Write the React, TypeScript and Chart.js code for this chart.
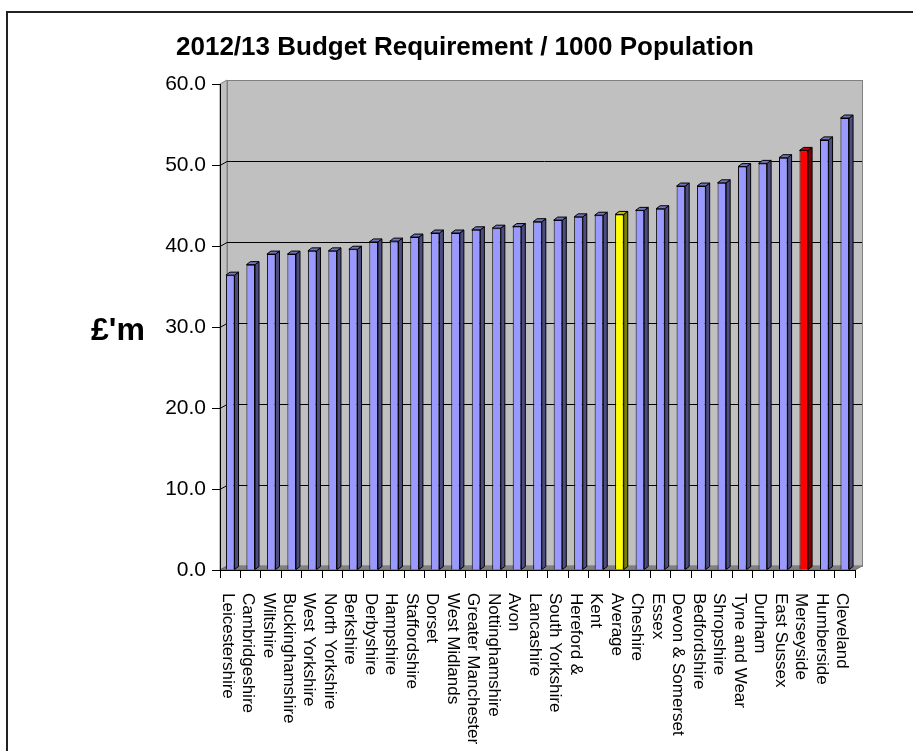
import React, { useEffect, useRef } from "react";
import { Chart, registerables } from "chart.js";

Chart.register(...registerables);

const chartTitle = "2012/13 Budget Requirement / 1000 Population";
const yAxisTitle = "£'m";

const categories = [
  "Leicestershire",
  "Cambridgeshire",
  "Wiltshire",
  "Buckinghamshire",
  "West Yorkshire",
  "North Yorkshire",
  "Berkshire",
  "Derbyshire",
  "Hampshire",
  "Staffordshire",
  "Dorset",
  "West Midlands",
  "Greater Manchester",
  "Nottinghamshire",
  "Avon",
  "Lancashire",
  "South Yorkshire",
  "Hereford &",
  "Kent",
  "Average",
  "Cheshire",
  "Essex",
  "Devon & Somerset",
  "Bedfordshire",
  "Shropshire",
  "Tyne and Wear",
  "Durham",
  "East Sussex",
  "Merseyside",
  "Humberside",
  "Cleveland",
];

const values = [
  36.4, 37.7, 39.0, 39.0, 39.4, 39.4, 39.6, 40.5, 40.6, 41.1, 41.6, 41.6, 42.0,
  42.2, 42.4, 43.0, 43.2, 43.6, 43.8, 43.9, 44.4, 44.6, 47.4, 47.4, 47.8, 49.8,
  50.2, 50.9, 51.8, 53.1, 55.8,
];

const yMin = 0;
const yMax = 60;
const yStep = 10;

const highlightYellow = ["Average"];
const highlightRed = ["Merseyside"];

// styles
const FONT = '"Liberation Sans", Arial, sans-serif';
const DX = 7; // wall depth offset
const DY = -4;
const BDX = 4; // bar depth offset
const BDY = -3;

const faceColor = (c: string) =>
  highlightYellow.includes(c) ? "#FFFF00" : highlightRed.includes(c) ? "#FF0000" : "#9999FF";
const sideColor = (c: string) =>
  highlightYellow.includes(c) ? "#808000" : highlightRed.includes(c) ? "#800000" : "#4C4C80";
const topColor = (c: string) =>
  highlightYellow.includes(c) ? "#BFBF00" : highlightRed.includes(c) ? "#BF0000" : "#7373BF";

const decorPlugin = {
  id: "decor3d",
  beforeDraw(chart: any) {
    const { ctx, chartArea } = chart;
    const ys = chart.scales.y;
    const L = chartArea.left,
      R = chartArea.right,
      T = chartArea.top,
      B = chartArea.bottom;
    ctx.save();
    // outer frame
    ctx.strokeStyle = "#222";
    ctx.lineWidth = 2;
    ctx.strokeRect(7, 12, 940, 800);

    // back wall
    ctx.fillStyle = "#C0C0C0";
    ctx.fillRect(L + DX, T + DY, R - L, B - T);
    // left wall
    ctx.beginPath();
    ctx.moveTo(L, T);
    ctx.lineTo(L + DX, T + DY);
    ctx.lineTo(L + DX, B + DY);
    ctx.lineTo(L, B);
    ctx.closePath();
    ctx.fill();
    ctx.strokeStyle = "#808080";
    ctx.lineWidth = 1;
    ctx.stroke();
    // floor
    ctx.beginPath();
    ctx.moveTo(L, B);
    ctx.lineTo(L + DX, B + DY);
    ctx.lineTo(R + DX, B + DY);
    ctx.lineTo(R, B);
    ctx.closePath();
    ctx.fillStyle = "#808080";
    ctx.fill();
    ctx.strokeStyle = "#666";
    ctx.stroke();
    // back wall border
    ctx.strokeStyle = "#808080";
    ctx.strokeRect(L + DX + 0.5, T + DY + 0.5, R - L, B - T);

    // gridlines on back wall
    ctx.strokeStyle = "#000";
    ctx.lineWidth = 1;
    for (let v = yMin + yStep; v < yMax; v += yStep) {
      const py = Math.round(ys.getPixelForValue(v)) + 0.5;
      ctx.beginPath();
      ctx.moveTo(L, py);
      ctx.lineTo(L + DX, py + DY);
      ctx.lineTo(R + DX, py + DY);
      ctx.stroke();
    }
    ctx.restore();
  },
  afterDatasetsDraw(chart: any) {
    const { ctx } = chart;
    const meta = chart.getDatasetMeta(0);
    ctx.save();
    ctx.strokeStyle = "#000";
    ctx.lineWidth = 1;
    meta.data.forEach((bar: any, i: number) => {
      const { x, y, base, width } = bar.getProps(["x", "y", "base", "width"], true);
      const l = x - width / 2;
      const r = x + width / 2;
      const c = categories[i];
      // side
      ctx.beginPath();
      ctx.moveTo(r, y);
      ctx.lineTo(r + BDX, y + BDY);
      ctx.lineTo(r + BDX, base + BDY);
      ctx.lineTo(r, base);
      ctx.closePath();
      ctx.fillStyle = sideColor(c);
      ctx.fill();
      ctx.stroke();
      // top
      ctx.beginPath();
      ctx.moveTo(l, y);
      ctx.lineTo(l + BDX, y + BDY);
      ctx.lineTo(r + BDX, y + BDY);
      ctx.lineTo(r, y);
      ctx.closePath();
      ctx.fillStyle = topColor(c);
      ctx.fill();
      ctx.stroke();
    });
    ctx.restore();
  },
  afterDraw(chart: any) {
    const { ctx, chartArea } = chart;
    const xs = chart.scales.x;
    ctx.save();
    ctx.fillStyle = "#000";
    // title
    ctx.font = `bold 26px ${FONT}`;
    ctx.textAlign = "center";
    ctx.textBaseline = "middle";
    ctx.fillText(chartTitle, 465, 48);
    // y title
    ctx.font = `bold 32px ${FONT}`;
    ctx.textAlign = "center";
    ctx.textBaseline = "alphabetic";
    ctx.fillText(yAxisTitle, 118, 340);
    // category labels, rotated clockwise
    ctx.font = `17px ${FONT}`;
    ctx.textAlign = "left";
    ctx.textBaseline = "middle";
    categories.forEach((c, i) => {
      const px = xs.getPixelForValue(i) - 3;
      ctx.save();
      ctx.translate(px, chartArea.bottom + 23);
      ctx.rotate(Math.PI / 2);
      ctx.fillText(c, 0, 0);
      ctx.restore();
    });
    ctx.restore();
  },
};

export default function App() {
  const ref = useRef<HTMLCanvasElement>(null);
  useEffect(() => {
    if (!ref.current) return;
    const chart = new Chart(ref.current, {
      type: "bar",
      data: {
        labels: categories,
        datasets: [
          {
            data: values,
            backgroundColor: categories.map(faceColor),
            borderColor: "#000",
            borderWidth: 1,
            categoryPercentage: 1,
            barPercentage: 0.42,
          },
        ],
      },
      options: {
        responsive: false,
        animation: false,
        devicePixelRatio: 1,
        layout: { padding: { top: 84, right: 58, left: 0, bottom: 0 } },
        plugins: {
          legend: { display: false },
          tooltip: { enabled: false },
          title: { display: false },
        },
        scales: {
          x: {
            type: "category",
            offset: true,
            grid: {
              offset: true,
              drawOnChartArea: false,
              drawTicks: true,
              tickLength: 8,
              color: "#000",
            },
            border: { color: "#000", width: 1 },
            ticks: { display: false },
            afterFit: (s: any) => {
              s.height = 181;
            },
          },
          y: {
            min: yMin,
            max: yMax,
            ticks: {
              stepSize: yStep,
              callback: (v: any) => Number(v).toFixed(1),
              font: { family: FONT, size: 21 },
              color: "#000",
              padding: 6,
            },
            grid: { drawOnChartArea: false, tickLength: 8, color: "#000" },
            border: { color: "#000", width: 1 },
            afterFit: (s: any) => {
              s.width = 220;
            },
          },
        },
      },
      plugins: [decorPlugin],
    } as any);
    return () => chart.destroy();
  }, []);
  return (
    <div
      style={{
        position: "fixed",
        left: 0,
        top: 0,
        width: 913,
        height: 751,
        background: "#fff",
        overflow: "hidden",
      }}
    >
      <canvas ref={ref} width={913} height={751} style={{ display: "block", width: 913, height: 751 }} />
    </div>
  );
}
